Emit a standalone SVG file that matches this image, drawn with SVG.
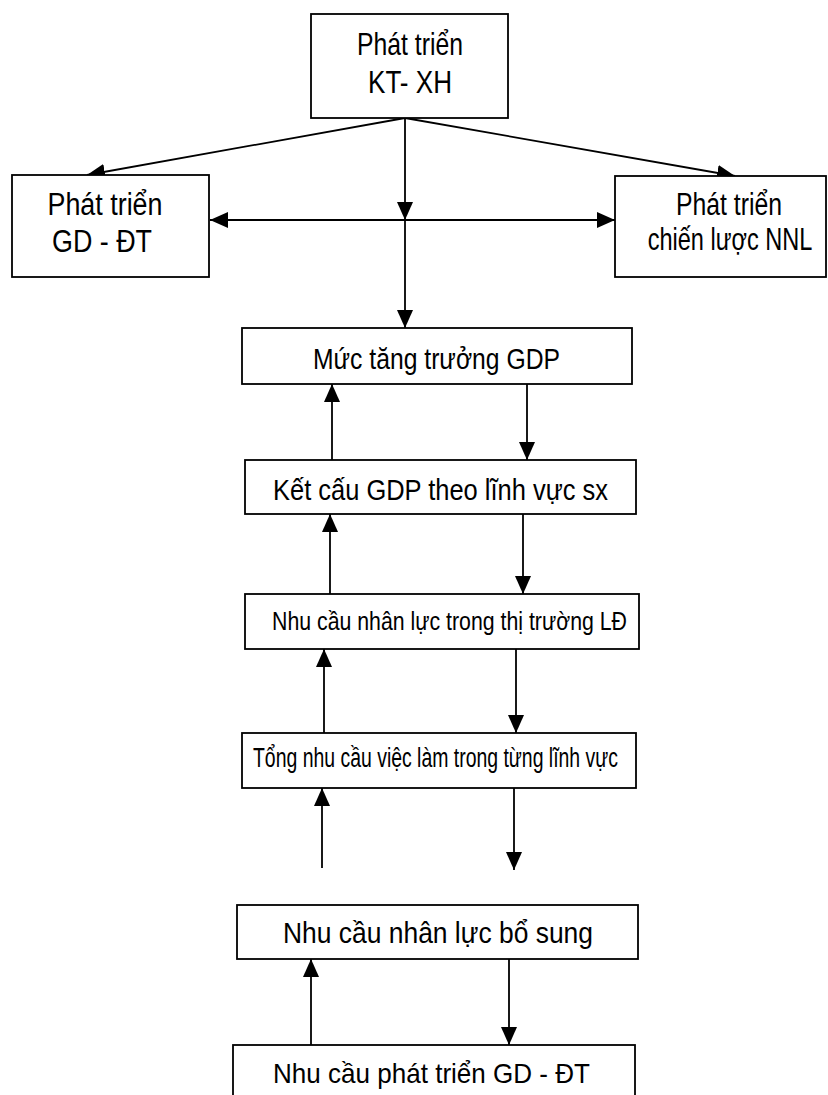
<svg xmlns="http://www.w3.org/2000/svg" width="828" height="1095" viewBox="0 0 828 1095">
<defs>
<marker id="ah" markerUnits="userSpaceOnUse" markerWidth="18" markerHeight="16" refX="18" refY="8" orient="auto">
<path d="M0,0 L18,8 L0,16 z" fill="#000"/>
</marker>
<marker id="ahs" markerUnits="userSpaceOnUse" markerWidth="18" markerHeight="16" refX="0" refY="8" orient="auto">
<path d="M18,0 L0,8 L18,16 z" fill="#000"/>
</marker>
<style>
.box{fill:#fff;stroke:#000;stroke-width:1.8}
.t{font-family:"Liberation Sans",Arial,sans-serif;fill:#000;text-anchor:middle}
.c{fill:none;stroke:#000;stroke-width:1.8}
</style>
</defs>
<rect width="828" height="1095" fill="#fff"/>
<g id="connectors">
<line class="c" x1="405" y1="118" x2="87" y2="175" marker-end="url(#ah)"/>
<line class="c" x1="405" y1="118" x2="735" y2="176" marker-end="url(#ah)"/>
<line class="c" x1="405" y1="118" x2="405" y2="220" marker-end="url(#ah)"/>
<line class="c" x1="405" y1="220" x2="405" y2="328" marker-end="url(#ah)"/>
<line class="c" x1="210" y1="220" x2="615" y2="220" marker-start="url(#ahs)" marker-end="url(#ah)"/>
<line class="c" x1="527" y1="384" x2="527" y2="460" marker-end="url(#ah)"/>
<line class="c" x1="332" y1="460" x2="332" y2="384" marker-end="url(#ah)"/>
<line class="c" x1="523" y1="514" x2="523" y2="594" marker-end="url(#ah)"/>
<line class="c" x1="330" y1="594" x2="330" y2="514" marker-end="url(#ah)"/>
<line class="c" x1="516" y1="649" x2="516" y2="733" marker-end="url(#ah)"/>
<line class="c" x1="324" y1="733" x2="324" y2="649" marker-end="url(#ah)"/>
<line class="c" x1="514" y1="788" x2="514" y2="870" marker-end="url(#ah)"/>
<line class="c" x1="322" y1="868" x2="322" y2="788" marker-end="url(#ah)"/>
<line class="c" x1="509" y1="959" x2="509" y2="1045" marker-end="url(#ah)"/>
<line class="c" x1="311" y1="1045" x2="311" y2="959" marker-end="url(#ah)"/>
</g>
<g id="n-top">
<rect class="box" x="311" y="14" width="197" height="104"/>
<text class="t" x="410" y="55" font-size="32" textLength="106" lengthAdjust="spacingAndGlyphs">Phát triển</text>
<text class="t" x="410" y="93" font-size="32" textLength="84" lengthAdjust="spacingAndGlyphs">KT- XH</text>
</g>
<g id="n-left">
<rect class="box" x="12" y="175" width="197" height="102"/>
<text class="t" x="105" y="215" font-size="31" textLength="115" lengthAdjust="spacingAndGlyphs">Phát triển</text>
<text class="t" x="102" y="252" font-size="31" textLength="100" lengthAdjust="spacingAndGlyphs">GD - ĐT</text>
</g>
<g id="n-right">
<rect class="box" x="615" y="176" width="211" height="101"/>
<text class="t" x="729" y="215" font-size="31" textLength="106" lengthAdjust="spacingAndGlyphs">Phát triển</text>
<text class="t" transform="translate(730,250) scale(0.76,1)" x="0" y="0" font-size="31">chiến lược NNL</text>
</g>
<g id="n-gdp">
<rect class="box" x="242" y="328" width="390" height="56"/>
<text class="t" x="436.5" y="369" font-size="30" textLength="247" lengthAdjust="spacingAndGlyphs">Mức tăng trưởng GDP</text>
</g>
<g id="n-ketcau">
<rect class="box" x="245" y="460" width="391" height="54"/>
<text class="t" x="440.5" y="500" font-size="29" textLength="335" lengthAdjust="spacingAndGlyphs">Kết cấu GDP theo lĩnh vực sx</text>
</g>
<g id="n-nhucau-ld">
<rect class="box" x="245" y="594" width="394" height="55"/>
<text class="t" x="449.5" y="630" font-size="26" textLength="355" lengthAdjust="spacingAndGlyphs">Nhu cầu nhân lực trong thị trường LĐ</text>
</g>
<g id="n-tong">
<rect class="box" x="242" y="733" width="394" height="55"/>
<text class="t" x="435.5" y="767" font-size="27" textLength="365" lengthAdjust="spacingAndGlyphs">Tổng nhu cầu việc làm trong từng lĩnh vực</text>
</g>
<g id="n-bosung">
<rect class="box" x="237" y="905" width="401" height="54"/>
<text class="t" x="438" y="943" font-size="29" textLength="310" lengthAdjust="spacingAndGlyphs">Nhu cầu nhân lực bổ sung</text>
</g>
<g id="n-gddt">
<rect class="box" x="233" y="1045" width="402" height="70"/>
<text class="t" x="431.5" y="1083" font-size="28" textLength="317" lengthAdjust="spacingAndGlyphs">Nhu cầu phát triển GD - ĐT</text>
</g>
</svg>
